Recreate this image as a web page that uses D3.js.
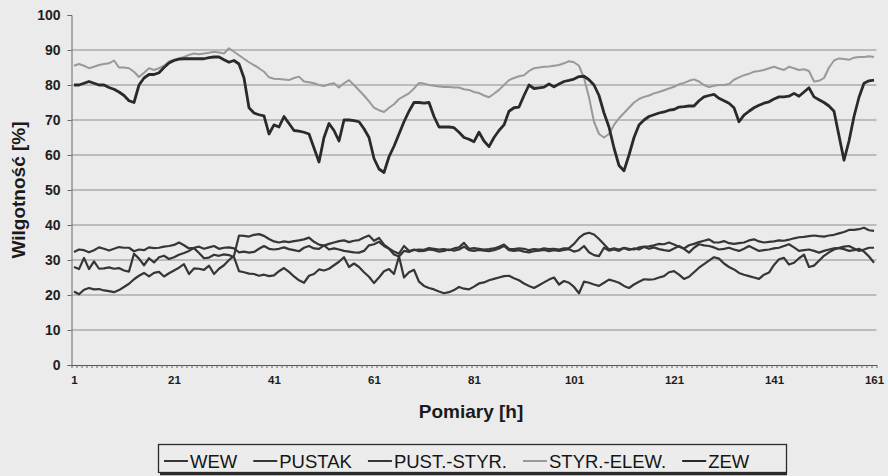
<!DOCTYPE html>
<html>
<head>
<meta charset="utf-8">
<script src="https://cdn.jsdelivr.net/npm/d3@7"></script>
<style>
  html, body { margin: 0; padding: 0; background: #ebebeb; }
  svg { display: block; font-family: "Liberation Sans", Arial, sans-serif; }
</style>
</head>
<body>
<div id="chart"></div>
<script>
// measurement index (hours)
const hours = d3.range(1, 162);

const wew = [
  32.3, 33, 32.8, 32.2, 32.8, 33.6, 33.2, 32.7, 33.2, 33.7,
  33.5, 33.5, 32.5, 33, 32.8, 33.6, 33.4, 33.5, 33.8, 34,
  34.3, 35, 34.2, 33.3, 33.5, 33.8, 33.2, 33.6, 34, 33.2,
  33.5, 33.6, 33.3, 32.2, 32.4, 32.1, 32.3, 33.2, 34, 33.2,
  33, 33.2, 33.6, 33.1, 32.8, 32.5, 33.5, 34, 33.3, 33.2,
  34.2, 33, 33.3, 33, 32.6, 32.4, 32.2, 32.1, 32.6, 34.2,
  34.5, 35.2, 34, 33.2, 31.6, 31, 32.6, 32.3, 33, 32.5,
  32.6, 33, 32.8, 32.4, 32.6, 33, 32.7, 33, 33.8, 32.8,
  32.6, 32.9, 32.7, 32.5, 32.8, 33.3, 34, 32.8, 32.6, 32.8,
  32.4, 32.2, 32.5, 32.7, 32.9, 32.5, 32.8, 32.6, 32.9, 33.1,
  32.4, 32.8, 34, 32.2, 31.4, 31.1, 33.5, 32.7, 33, 32.6,
  33.4, 32.9, 33.3, 33, 33.7, 33.2, 33.6, 33.1, 32.8, 32.6,
  33.3, 34, 33.2, 32.1, 33.5, 34.5, 34.2, 34, 33.6, 33,
  33.2, 33.5, 33, 32.6, 33.2, 34, 33.3, 32.6, 32.8, 33,
  33.3, 33.5, 34, 34.5, 33.6, 32.6, 32.8, 33, 32.6, 32.1,
  32.6, 33, 33.3, 33.5, 33.8, 34, 33.3, 32.6, 33, 33.5,
  33.5
];

const pustak = [
  28, 27.4, 30.6, 27.4, 29.6, 27.5, 27.6, 27.9, 27.5, 27.7,
  27, 26.7, 31.8, 30.4, 28.5, 30.5, 29.3, 30.8, 31.2, 30.3,
  30.8, 31.5, 32, 32.6, 33.4, 32, 30.5, 30.7, 31.5, 31.2,
  31.6, 31.4, 30.8, 26.8, 26.5, 26.1, 26, 25.5, 25.8, 25.4,
  25.6, 26.8, 27.7, 26.6, 25.3, 24.2, 23.5, 25.5, 26, 27.3,
  27, 27.5, 28.5, 29.5, 30.8, 28, 29, 28, 26.5, 25.2,
  23.4, 25, 26.8, 27.4, 26, 31, 25, 26.5, 27.2, 23.8,
  22.6, 22, 21.6, 21, 20.5, 20.8, 21.4, 22.3, 21.8, 21.6,
  22.4, 23.3, 23.6, 24.2, 24.6, 25, 25.4, 25.5, 24.8, 24.2,
  23.3, 22.6, 22, 22.8, 23.6, 24.4, 25, 23, 24, 23.5,
  22.3, 20.5, 23.8, 23.5, 23, 22.6, 23.5, 24.4, 24, 23.5,
  22.6, 22, 23, 23.8, 24.5, 24.4, 24.5, 25, 25.4, 26.5,
  26.8, 25.8, 24.6, 25.2, 26.5, 27.8, 28.8, 29.8, 30.8, 30.4,
  29, 28, 27.3, 26.3, 25.8, 25.4, 25, 24.6, 25.8, 26.4,
  28.6, 30.2, 30.6, 28.7, 29.2, 30.5, 31.5, 28, 28.4, 29.8,
  31.2, 32.2, 33, 33.4, 33.1, 32.6, 32.8, 33.2, 32.4, 31,
  29.2
];

const pustStyr = [
  21, 20.2, 21.5, 22, 21.6, 21.7, 21.3, 21.1, 20.8, 21.4,
  22.3, 23.2, 24.5, 25.5, 26.3, 25.3, 26.3, 26.6, 25.3, 26.2,
  27, 27.8, 28.8, 26, 27.6, 27.5, 27.2, 28.4, 26, 27.5,
  28.5, 30, 31.2, 37, 36.9, 36.7, 37.2, 37.4, 36.9, 36,
  35.3, 35, 35.3, 35.1, 35.4, 35.6, 35.9, 36.4, 35.2, 34.4,
  34.1, 34.6, 35, 35.4, 35.6, 35.1, 35.5, 35.7, 36.4, 37,
  35.5, 36.3, 34.4, 33.3, 32.4, 31.8, 34, 32.6, 32.8, 33,
  32.9, 33.4, 33.2, 33, 33.1, 32.8, 33.3, 33.6, 34.9, 33.2,
  33.4, 33.2, 33, 33.1, 33.3, 33.8, 34.4, 33.2, 33.1, 33.3,
  33.2, 32.8, 33.1, 33, 33.3, 33.1, 33.2, 33, 33.3, 33.4,
  34.6, 36.3, 37.4, 37.8, 37.3, 36, 34.5, 33, 33.3, 33,
  33.5, 33.2, 33, 33.6, 33.8, 33.9, 34.2, 34.6, 34.5, 35,
  34.4, 33.8, 33.3, 34.2, 34.6, 35.1, 35.5, 35.9, 35, 35,
  35.4, 34.8, 34.6, 34.8, 35, 35.6, 35.9, 35.3, 35, 35.2,
  35.3, 35.6, 35.5, 35.8, 36.2, 36.5, 36.6, 36.8, 37, 36.8,
  36.7, 37, 37.2, 37.6, 38, 38.6, 38.6, 38.8, 39.2, 38.5,
  38.3
];

const styrElew = [
  85.5, 86, 85.5, 84.8, 85.2, 85.7, 86, 86.2, 87, 85,
  85, 84.8, 83.8, 82.3, 83.5, 84.8, 84.3, 84.8, 85.5, 86.7,
  87.2, 87.6, 88, 88.6, 89, 88.8, 89, 89.2, 89.5, 89.3,
  89, 90.5, 89.5, 88.5, 87.5, 86.5, 85.7, 84.8, 83.8, 82.2,
  81.8, 81.7, 81.6, 81.4, 82, 82.4, 81, 80.8, 80.5, 80,
  79.7, 80.2, 80.5, 79.3, 80.5, 81.4, 80, 78.5, 77, 75.3,
  73.5, 72.8, 72.3, 73.5, 74.5, 76, 76.8, 77.6, 79, 80.6,
  80.4, 80, 79.8, 79.6, 79.4, 79.4, 79.3, 79.3, 78.8, 78.6,
  78, 77.7, 77, 76.5, 77.5, 78.6, 80, 81.4, 82, 82.5,
  82.8, 84, 84.8, 85, 85.2, 85.3, 85.5, 85.7, 86.2, 86.8,
  86.5, 85.5, 82, 76.5, 69.5, 66, 65, 66, 68.6, 70.5,
  72, 73.5, 75, 76, 76.6, 77, 77.6, 78, 78.5, 79,
  79.5, 80.2, 80.6, 81.2, 81.6, 81, 80, 79.4, 79.8, 80,
  80, 80.3, 81.5, 82.2, 82.8, 83.2, 83.8, 84, 84.3, 84.8,
  85.2, 84.7, 84.3, 85.2, 84.8, 84.3, 84.5, 84, 81, 81.2,
  82, 85, 87, 87.6, 87.4, 87.2, 87.8, 88, 88, 88.2,
  88
];

const zew = [
  80, 80, 80.5, 81, 80.5, 80, 80, 79.3, 78.8, 78,
  77, 75.5, 75, 80, 82, 83, 83, 83.5, 85, 86.3,
  87, 87.4, 87.5, 87.5, 87.5, 87.5, 87.5, 87.8, 88, 88,
  87.2, 86.5, 87, 86, 82, 73.5, 72, 71.5, 71.2, 66,
  68.6, 68, 71, 69, 67, 66.8, 66.5, 66, 62, 58,
  65, 69, 67, 64, 70, 70, 69.8, 69.5, 67.5, 65,
  59, 56, 55, 59.5, 62.5, 66, 69.5, 72.5, 75, 75,
  74.8, 75, 71, 68, 68, 68, 67.8, 66.5, 65, 64.5,
  63.8, 66.5, 64, 62.4, 65, 67, 68.6, 72.5, 73.5, 73.7,
  77, 80, 79, 79.2, 79.4, 80.3, 79.5, 80.3, 81, 81.3,
  81.7, 82.4, 82.5, 81.5, 80, 77, 72, 68, 62, 57,
  55.5, 60, 65, 68.6, 70, 71, 71.5, 72, 72.3, 72.8,
  73, 73.7, 73.8, 74, 74, 75.5, 76.6, 77, 77.3, 76.2,
  75.5, 74.8, 73.5, 69.5, 71.4, 72.5, 73.5, 74.2, 74.8, 75.2,
  76, 76.6, 76.6, 76.8, 77.6, 76.8, 78, 79.2, 76.6, 75.8,
  75, 74, 72.5, 65.5, 58.5, 64, 71, 76.5, 80.5, 81.2,
  81.4
];

const seriesNames = ['WEW', 'PUSTAK', 'PUST.-STYR.', 'STYR.-ELEW.', 'ZEW'];
const yTicks = [0, 10, 20, 30, 40, 50, 60, 70, 80, 90, 100];
const xTickLabels = [1, 21, 41, 61, 81, 101, 121, 141, 161];

const width = 888, height = 476;
const plot = { left: 71.5, right: 876.5, top: 15, bottom: 365 };

const svg = d3.select('#chart')
  .append('svg')
  .attr('width', width)
  .attr('height', height);

svg.append('rect')
  .attr('width', width)
  .attr('height', height)
  .attr('fill', '#ebebeb');

// scales
const x = d3.scaleLinear()
  .domain([0.5, hours.length + 0.5])
  .range([plot.left, plot.right]);
const y = d3.scaleLinear()
  .domain([0, 100])
  .range([plot.bottom, plot.top]);

// gridlines
svg.append('g')
  .selectAll('line')
  .data(yTicks.filter(d => d > 0 && d < 100))
  .enter()
  .append('line')
  .attr('x1', plot.left)
  .attr('x2', plot.right)
  .attr('y1', d => y(d))
  .attr('y2', d => y(d))
  .attr('stroke', '#8e8e8e')
  .attr('stroke-width', 1.2);

// Y axis
const yAxis = svg.append('g')
  .attr('transform', 'translate(' + plot.left + ',0)')
  .call(d3.axisLeft(y).tickValues(yTicks).tickSize(4).tickPadding(7));
yAxis.select('.domain').attr('stroke', '#666');
yAxis.selectAll('.tick line').attr('stroke', '#666');
yAxis.selectAll('text')
  .attr('fill', '#1e1e1e')
  .style('font-size', '14px')
  .style('font-weight', 'bold')
  .style('font-family', '"Liberation Sans", Arial, sans-serif');

// X axis: small ticks between categories, labels every 20
const xTicks = svg.append('g')
  .attr('transform', 'translate(0,' + plot.bottom + ')')
  .call(d3.axisBottom(x)
    .tickValues(d3.range(0.5, hours.length + 1, 1))
    .tickFormat('')
    .tickSize(3)
    .tickSizeOuter(0));
xTicks.select('.domain').attr('stroke', '#555').attr('stroke-width', 1.2);
xTicks.selectAll('.tick line').attr('stroke', '#666');

const xLabels = svg.append('g')
  .attr('transform', 'translate(0,' + plot.bottom + ')')
  .call(d3.axisBottom(x).tickValues(xTickLabels).tickSize(0).tickPadding(11));
xLabels.select('.domain').remove();
xLabels.selectAll('text')
  .attr('fill', '#1e1e1e')
  .style('font-size', '11.5px')
  .style('font-weight', 'bold')
  .style('font-family', '"Liberation Sans", Arial, sans-serif');

// axis titles
svg.append('text')
  .attr('transform', 'translate(25,190) rotate(-90)')
  .attr('text-anchor', 'middle')
  .attr('fill', '#1a1a1a')
  .style('font-size', '19px')
  .style('font-weight', 'bold')
  .text('Wilgotność [%]');

svg.append('text')
  .attr('x', 471)
  .attr('y', 418)
  .attr('text-anchor', 'middle')
  .attr('fill', '#1a1a1a')
  .style('font-size', '19px')
  .style('font-weight', 'bold')
  .text('Pomiary [h]');

// series
const series = [
  { name: seriesNames[3], values: styrElew, color: '#999999', w: 2 },
  { name: seriesNames[0], values: wew, color: '#363636', w: 2.2 },
  { name: seriesNames[1], values: pustak, color: '#363636', w: 2.2 },
  { name: seriesNames[2], values: pustStyr, color: '#363636', w: 2.2 },
  { name: seriesNames[4], values: zew, color: '#2a2a2a', w: 2.8 }
];

const line = d3.line()
  .x((d, i) => x(hours[i]))
  .y(d => y(d));

svg.append('g')
  .selectAll('path')
  .data(series)
  .enter()
  .append('path')
  .attr('d', d => line(d.values))
  .attr('fill', 'none')
  .attr('stroke', d => d.color)
  .attr('stroke-width', d => d.w)
  .attr('stroke-linejoin', 'round');

// legend
const legendItems = seriesNames.map(n => series.find(s => s.name === n));
const legend = svg.append('g');
legend.append('rect')
  .attr('x', 158.5)
  .attr('y', 444.5)
  .attr('width', 628)
  .attr('height', 28)
  .attr('fill', '#ececec')
  .attr('stroke', '#2a2a2a')
  .attr('stroke-width', 1.3);
legend.append('line')
  .attr('x1', 160).attr('x2', 787)
  .attr('y1', 474).attr('y2', 474)
  .attr('stroke', '#2a2a2a')
  .attr('stroke-width', 2.5);

let cx = 164;
legendItems.forEach(s => {
  legend.append('line')
    .attr('x1', cx).attr('x2', cx + 24)
    .attr('y1', 461).attr('y2', 461)
    .attr('stroke', s.color)
    .attr('stroke-width', 2);
  const t = legend.append('text')
    .attr('x', cx + 26)
    .attr('y', 468)
    .attr('fill', '#151515')
    .style('font-size', '18.5px')
    .text(s.name);
  cx += 26 + t.node().getComputedTextLength() + 16;
});
</script>
</body>
</html>
